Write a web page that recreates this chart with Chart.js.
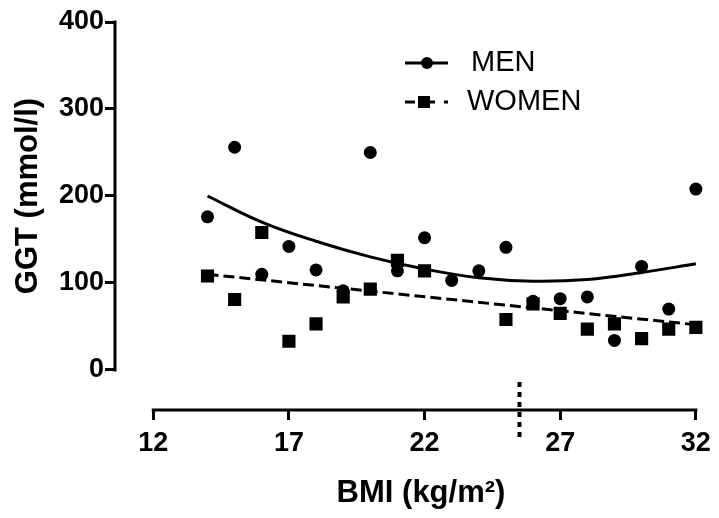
<!DOCTYPE html>
<html><head><meta charset="utf-8">
<script src="https://cdn.jsdelivr.net/npm/chart.js@4/dist/chart.umd.min.js"></script>
<style>html,body{margin:0;padding:0;background:#fff}#wrap{width:719px;height:518px}</style>
</head><body><div id="wrap"><canvas id="c" width="719" height="518"></canvas></div>
<script>
// ---- data ----
const menBMI = [14,15,16,17,18,19,20,21,22,23,24,25,26,27,28,29,30,31,32];
const menGGT = [176,256,110,142,115,91,250,114,152,103,114,141,79,82,84,34,119,70,208];
const womenBMI = [14,15,16,17,18,19,20,21,22,25,26,27,28,29,30,31,32];
const womenGGT = [108,81,158,33,53,84,93,126,114,58,76,65,47,53,36,47,49];
const menFitBMI = [14,16,18,20,22,24,26,28,30,32];
const menFitGGT = [200,170,148,130,116,106,102,104,112,122];
const womenFitBMI = [14,32];
const womenFitGGT = [110,52];
const xTicks = [12,17,22,27,32];
const yTicks = [0,100,200,300,400];
const cutoffBMI = 25.5;
const legendLabels = ['MEN','WOMEN'];
const xTitle = 'BMI (kg/m\u00B2)';
const yTitle = 'GGT (mmol/l)';

const FONT = "'Liberation Sans', Arial, Helvetica, sans-serif";
const pts = (xs, ys) => xs.map((v,i)=>({x:v, y:ys[i]}));

const decor = {
  id:'decor',
  afterDraw(chart){
    const {ctx, chartArea:a, scales:{x, y}} = chart;
    ctx.save();
    ctx.strokeStyle = '#000'; ctx.fillStyle = '#000';
    ctx.lineWidth = 3; ctx.lineCap = 'butt';
    // y axis line (0..400)
    const yb = y.getPixelForValue(yTicks[0]), yt = y.getPixelForValue(yTicks[yTicks.length-1]);
    ctx.beginPath(); ctx.moveTo(a.left, yb + 1.5); ctx.lineTo(a.left, yt - 1.5); ctx.stroke();
    // x axis line (12..32)
    const xl = x.getPixelForValue(xTicks[0]), xr = x.getPixelForValue(xTicks[xTicks.length-1]);
    ctx.beginPath(); ctx.moveTo(xl - 1.5, a.bottom); ctx.lineTo(xr + 1.5, a.bottom); ctx.stroke();
    // dotted cutoff marker
    const xd = x.getPixelForValue(cutoffBMI);
    ctx.lineWidth = 4; ctx.setLineDash([5,5]);
    ctx.beginPath(); ctx.moveTo(xd, a.bottom - 28); ctx.lineTo(xd, a.bottom + 32); ctx.stroke();
    ctx.setLineDash([]);
    // legend
    ctx.lineWidth = 3;
    ctx.beginPath(); ctx.moveTo(405, 63); ctx.lineTo(448, 63); ctx.stroke();
    ctx.beginPath(); ctx.arc(427, 63, 6, 0, Math.PI*2); ctx.fill();
    ctx.setLineDash([10,4,16,9,4,50]);
    ctx.beginPath(); ctx.moveTo(405, 102); ctx.lineTo(448, 102); ctx.stroke();
    ctx.setLineDash([]);
    ctx.fillRect(418, 96, 12, 12);
    ctx.font = "29px " + FONT; ctx.textBaseline = 'middle'; ctx.textAlign = 'left';
    ctx.fillText(legendLabels[0], 471, 63);
    ctx.fillText(legendLabels[1], 467, 102);
    // axis titles
    ctx.font = "bold 31px " + FONT; ctx.textAlign = 'center';
    ctx.fillText(xTitle, 421, 493);
    ctx.translate(28, 196); ctx.rotate(-Math.PI/2);
    ctx.fillText(yTitle, 0, 0);
    ctx.restore();
  }
};

new Chart(document.getElementById('c'), {
  data: {
    datasets: [
      {type:'scatter', label:'MEN', data: pts(menBMI, menGGT), pointStyle:'circle', pointRadius:6.5, pointHoverRadius:6.5, backgroundColor:'#000', borderColor:'#000', borderWidth:0},
      {type:'scatter', label:'WOMEN', data: pts(womenBMI, womenGGT), pointStyle:'rect', pointRadius:9.3, pointHoverRadius:9.3, backgroundColor:'#000', borderColor:'#000', borderWidth:0},
      {type:'line', label:'MEN fit', data: pts(menFitBMI, menFitGGT), borderColor:'#000', borderWidth:3, pointRadius:0, tension:0.4, fill:false},
      {type:'line', label:'WOMEN fit', data: pts(womenFitBMI, womenFitGGT), borderColor:'#000', borderWidth:3, borderDash:[11,5], pointRadius:0, tension:0, fill:false}
    ]
  },
  options: {
    responsive:false, animation:false, devicePixelRatio:1,
    layout:{padding:{top:22, right:7, left:0, bottom:0}},
    plugins:{legend:{display:false}, tooltip:{enabled:false}},
    scales:{
      x:{type:'linear', min:10.59, max:32.51,
        afterBuildTicks(s){ s.ticks = xTicks.map(v=>({value:v})); },
        afterFit(s){ s.height = 108; },
        border:{display:false},
        grid:{display:true, drawOnChartArea:false, drawTicks:true, tickLength:10, lineWidth:3, color:'#000'},
        ticks:{color:'#000', padding:7, maxRotation:0, font:{family:FONT, size:27, weight:'bold'}}
      },
      y:{type:'linear', min:-46, max:400,
        afterBuildTicks(s){ s.ticks = yTicks.map(v=>({value:v})); },
        afterFit(s){ s.width = 115; },
        border:{display:false},
        grid:{display:true, drawOnChartArea:false, drawTicks:true, tickLength:10, lineWidth:3, color:'#000'},
        ticks:{color:'#000', padding:1, font:{family:FONT, size:27, weight:'bold'}}
      }
    }
  },
  plugins:[decor]
});
</script>
</body></html>
